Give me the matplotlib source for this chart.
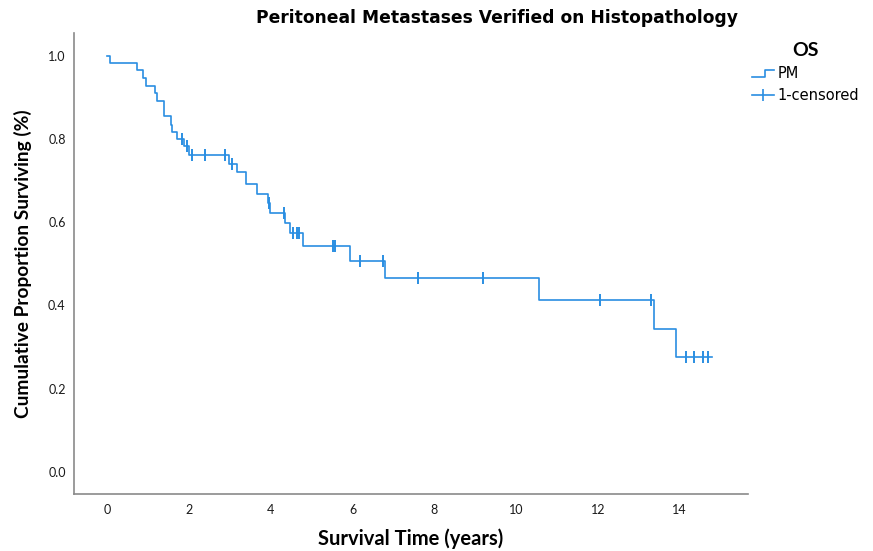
import numpy as np
import matplotlib
import matplotlib.pyplot as plt
from matplotlib.lines import Line2D
from matplotlib.legend_handler import HandlerBase

# Kaplan-Meier steps (time in years, survival after the drop)
event_times = [0.0, 0.07, 0.72, 0.88, 0.96, 1.17, 1.21, 1.39, 1.55, 1.59, 1.70, 1.89, 2.00,
               2.97, 3.17, 3.39, 3.66, 3.94, 3.99, 4.35, 4.46, 4.80, 5.94, 6.80, 10.56,
               13.38, 13.90]
surv = [1.0, 0.983, 0.965, 0.946, 0.928, 0.910, 0.892, 0.856, 0.834, 0.817, 0.799, 0.782, 0.762,
        0.740, 0.720, 0.692, 0.668, 0.645, 0.623, 0.598, 0.574, 0.543, 0.507, 0.465, 0.413,
        0.344, 0.276]
censor_times = [1.84, 1.95, 2.07, 2.40, 2.88, 3.06, 3.95, 4.33, 4.54, 4.64, 4.70, 5.53, 5.58,
                6.18, 6.74, 7.59, 9.20, 12.05, 13.29, 14.16, 14.36, 14.57, 14.69]
end_time = 14.78

x_ticks = [0, 2, 4, 6, 8, 10, 12, 14]
y_ticks = [0.0, 0.2, 0.4, 0.6, 0.8, 1.0]

BLUE = "#2a8ee2"
LABEL_FONT = ["Lato", "DejaVu Sans"]


class StepHandler(HandlerBase):
    # little step glyph like the SPSS legend
    def create_artists(self, legend, orig_handle, xdescent, ydescent, width, height, fontsize, trans):
        x0, x1 = -xdescent, -xdescent + width
        xm = x0 + width * 0.6
        y_lo, y_hi = -ydescent + height * 0.15, -ydescent + height * 0.8
        ln = Line2D([x0, xm, xm, x1], [y_lo, y_lo, y_hi, y_hi], color=BLUE, lw=1.2, transform=trans)
        return [ln]


fig = plt.figure(figsize=(8.73, 5.51), dpi=100)
ax = fig.add_axes([0.0848, 0.1034, 0.772, 0.837])

t = np.array(event_times + [end_time])
s = np.array(surv + [surv[-1]])
ax.step(t, s, where="post", color=BLUE, lw=1.2)

# censor marks sit on the curve
idx = np.searchsorted(event_times, censor_times, side="right") - 1
censor_s = np.array(surv)[idx]
ax.plot(censor_times, censor_s, ls="none", marker="|", ms=8, mew=1.4, color=BLUE)

ax.set_xlim(-0.81, 15.67)
ax.set_ylim(-0.053, 1.055)
ax.set_xticks(x_ticks)
ax.set_yticks(y_ticks)
ax.yaxis.set_major_formatter(matplotlib.ticker.FormatStrFormatter("%.1f"))
ax.tick_params(length=0, labelsize=9, colors="#1a1a1a")
ax.tick_params(axis="x", pad=7)
ax.tick_params(axis="y", pad=6)
for lab in ax.get_xticklabels() + ax.get_yticklabels():
    lab.set_family(LABEL_FONT)

for side in ["top", "right"]:
    ax.spines[side].set_visible(False)
for side in ["left", "bottom"]:
    ax.spines[side].set_color("#8a8a8a")
    ax.spines[side].set_linewidth(1.2)

ax.set_xlabel("Survival Time (years)", fontsize=14.5, fontweight="bold", family=LABEL_FONT)
ax.xaxis.set_label_coords(0.5, -0.075)
ax.set_ylabel("Cumulative Proportion Surviving (%)", fontsize=13.8, fontweight="bold", family=LABEL_FONT)
ax.yaxis.set_label_coords(-0.063, 0.5)
fig.text(0.569, 0.967, "Peritoneal Metastases Verified on Histopathology",
         ha="center", va="center", fontsize=12.3, fontweight="bold")

h_pm = Line2D([], [], color=BLUE)
h_cens = Line2D([], [], color=BLUE, lw=1.2, marker="|", ms=9, mew=1.2)
leg = fig.legend([h_pm, h_cens], ["PM", "1-censored"], loc="upper left",
                 bbox_to_anchor=(0.861, 0.924), frameon=False, fontsize=10.5,
                 title="OS", title_fontproperties={"weight": "bold", "size": 14, "family": LABEL_FONT},
                 handler_map={h_pm: StepHandler()}, handlelength=1.5, handletextpad=0.3,
                 labelspacing=0.5, borderaxespad=0, borderpad=0)
leg._legend_box.align = "center"

fig.savefig("out.png", dpi=100)
